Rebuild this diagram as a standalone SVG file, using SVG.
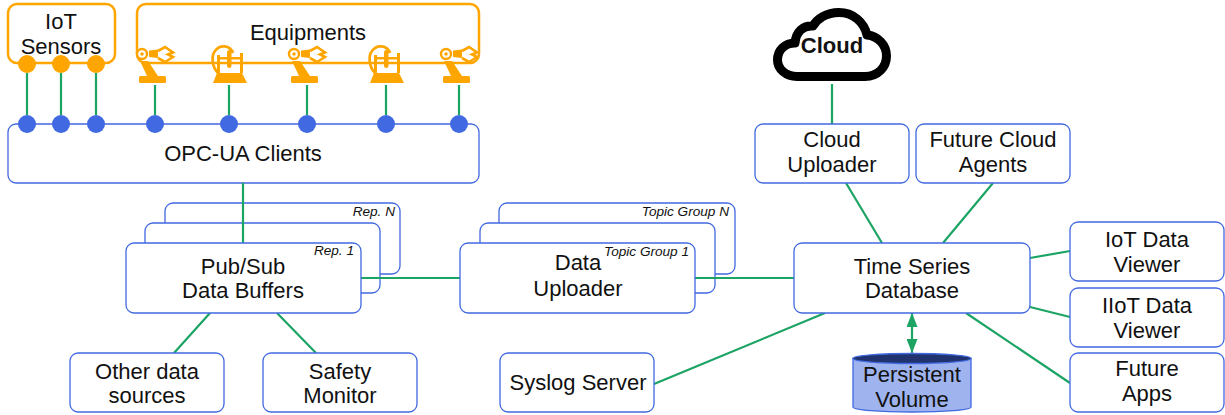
<svg xmlns="http://www.w3.org/2000/svg" width="1225" height="415" viewBox="0 0 1225 415">
<style>
text{font-family:"Liberation Sans",Arial,sans-serif;font-size:22px;fill:#111;text-anchor:middle}
.tag{font-size:13.6px;font-style:italic;text-anchor:end}
.box{fill:#fff;stroke:#4169e1;stroke-width:1.3}
.or{fill:none;stroke:#ffa500;stroke-width:2.5}
.c{fill:none;stroke:#1ba463;stroke-width:2.2}
.bd{fill:#4169e1}
.od{fill:#ffa500}
.ic{fill:#ffa500}
.ics{fill:none;stroke:#ffa500}
</style>
<defs>
<marker id="ah" viewBox="0 0 14 11" refX="14" refY="5.500" markerWidth="14" markerHeight="11" markerUnits="userSpaceOnUse" orient="auto-start-reverse"><path d="M0 0L14 5.500L0 11Z" fill="#1ba463"/></marker>
<g id="robot">
<rect x="-16" y="17" width="27" height="7" rx="1.500" class="ic"/>
<path d="M-15 2H-7L3 17H-8Z" class="ic"/>
<circle cx="-13" cy="-5" r="5" fill="#fff" stroke="#ffa500" stroke-width="2.400"/>
<circle cx="-13" cy="-5" r="1.800" class="ic"/>
<path d="M-6 -8.500L3 -9.500V-1L-6 -2Z" class="ic"/>
<path d="M3 -8L10 -12L18 -6.500L13 -4.500L18 -2L10 3L3 -1" fill="none" stroke="#ffa500" stroke-width="2.600"/>
</g>
<g id="printer">
<path d="M-16 24L-12 14H13L18 24Z" class="ic"/>
<rect x="-12" y="-4" width="3" height="18" class="ic"/>
<rect x="11" y="-6" width="3" height="20" class="ic"/>
<rect x="-11" y="-2" width="23" height="2.500" class="ic"/>
<rect x="-2" y="-9" width="4.500" height="18" rx="2.200" class="ic"/>
<path d="M-11 14C-17 8-18 -3-14 -8C-9 -15 1 -14 4 -6" class="ics" stroke-width="2.800"/>
</g>
</defs>

<g id="connectors">
<path class="c" d="M27 73V115M61 73V115M96 73V115M155 85V115M229 85V115M307 85V115M386 85V115M459 85V115"/>
<path class="c" d="M210 313L174 353M277 313L316 353"/>
<path class="c" d="M832 84V124"/>
<path class="c" d="M846 183L882 243M993 183L943 243"/>
<path class="c" d="M1030 258L1070 251M1030 307L1070 317M966 313L1070 383"/>
<path class="c" d="M825 313L654 384"/>
<path class="c" d="M912 313V353" marker-start="url(#ah)" marker-end="url(#ah)"/>
</g>

<g id="iot-sensors">
<rect class="or" x="8" y="4" width="107" height="59" rx="9"/>
<text x="61" y="29">IoT</text>
<text x="61" y="54">Sensors</text>
<circle class="od" cx="27" cy="64" r="9"/><circle class="od" cx="61" cy="64" r="9"/><circle class="od" cx="96" cy="64" r="9"/>
</g>

<g id="equipments">
<rect class="or" x="137" y="4" width="342" height="59" rx="9"/>
<text x="308" y="40">Equipments</text>
<use href="#robot" x="155" y="59"/>
<use href="#printer" x="229" y="59"/>
<use href="#robot" x="307" y="59"/>
<use href="#printer" x="386" y="59"/>
<use href="#robot" x="459" y="59"/>
</g>

<g id="opc-ua-clients">
<rect class="box" x="8" y="124" width="471" height="59" rx="8"/>
<text x="243" y="161">OPC-UA Clients</text>
<circle class="bd" cx="27" cy="124" r="9"/><circle class="bd" cx="61" cy="124" r="9"/><circle class="bd" cx="96" cy="124" r="9"/><circle class="bd" cx="155" cy="124" r="9"/><circle class="bd" cx="229" cy="124" r="9"/><circle class="bd" cx="307" cy="124" r="9"/><circle class="bd" cx="386" cy="124" r="9"/><circle class="bd" cx="459" cy="124" r="9"/>
</g>

<g id="pubsub-n">
<rect class="box" x="165" y="203" width="235" height="71" rx="8"/>
<text class="tag" x="395" y="216">Rep. N</text>
</g>
<g id="pubsub-2">
<rect class="box" x="145" y="223" width="235" height="70" rx="8"/>
</g>
<g id="connectors-pubsub">
<path class="c" d="M243 183V243"/>
<path class="c" d="M361 278H460"/>
</g>
<g id="pubsub-1">
<rect class="box" x="126" y="243" width="235" height="70" rx="8"/>
<text class="tag" x="354" y="255">Rep. 1</text>
<text x="243" y="274">Pub/Sub</text>
<text x="243" y="298">Data Buffers</text>
</g>

<g id="uploader-n">
<rect class="box" x="499" y="203" width="236" height="71" rx="8"/>
<text class="tag" x="729" y="216">Topic Group N</text>
</g>
<g id="uploader-2">
<rect class="box" x="480" y="223" width="235" height="70" rx="8"/>
</g>
<g id="connectors-uploader">
<path class="c" d="M695 278H794"/>
</g>
<g id="uploader-1">
<rect class="box" x="460" y="243" width="235" height="70" rx="8"/>
<text class="tag" x="689" y="256">Topic Group 1</text>
<text x="578" y="270">Data</text>
<text x="578" y="296">Uploader</text>
</g>

<g id="time-series-database">
<rect class="box" x="794" y="243" width="236" height="70" rx="8"/>
<text x="912" y="274">Time Series</text>
<text x="912" y="298">Database</text>
</g>

<g id="cloud">
<path d="M797 76.500H865C878 76.500 886.500 67 886.500 56C886.500 45 878 36 867 35C864 22 853 12.500 839 12.500C826 12.500 817 19 813 26C803 25 796 32 795 43C785 43 777.500 50 777.500 60C777.500 69 786 76.500 797 76.500Z" fill="#fff" stroke="#000" stroke-width="9" stroke-linejoin="round"/>
<text x="832" y="53" font-weight="bold">Cloud</text>
</g>

<g id="cloud-uploader">
<rect class="box" x="755" y="124" width="154" height="59" rx="8"/>
<text x="832" y="147">Cloud</text>
<text x="832" y="172">Uploader</text>
</g>
<g id="future-cloud-agents">
<rect class="box" x="916" y="124" width="154" height="59" rx="8"/>
<text x="993" y="147">Future Cloud</text>
<text x="993" y="172">Agents</text>
</g>
<g id="iot-data-viewer">
<rect class="box" x="1070" y="222" width="154" height="59" rx="8"/>
<text x="1147" y="247">IoT Data</text>
<text x="1147" y="272">Viewer</text>
</g>
<g id="iiot-data-viewer">
<rect class="box" x="1070" y="288" width="154" height="59" rx="8"/>
<text x="1147" y="313">IIoT Data</text>
<text x="1147" y="338">Viewer</text>
</g>
<g id="future-apps">
<rect class="box" x="1070" y="353" width="154" height="59" rx="8"/>
<text x="1147" y="376">Future</text>
<text x="1147" y="401">Apps</text>
</g>
<g id="other-data-sources">
<rect class="box" x="70" y="353" width="154" height="59" rx="8"/>
<text x="147" y="379">Other data</text>
<text x="147" y="403">sources</text>
</g>
<g id="safety-monitor">
<rect class="box" x="263" y="353" width="154" height="59" rx="8"/>
<text x="340" y="379">Safety</text>
<text x="340" y="403">Monitor</text>
</g>
<g id="syslog-server">
<rect class="box" x="500" y="353" width="154" height="59" rx="8"/>
<text x="578" y="390">Syslog Server</text>
</g>
<g id="persistent-volume">
<path d="M853 358.500V407C853 410 880 412 912 412C944 412 971 410 971 407V358.500Z" fill="#9fb4ef" stroke="#4169e1" stroke-width="1.300"/>
<ellipse cx="912" cy="358.500" rx="59" ry="5" fill="#20336f" stroke="#4169e1" stroke-width="1.300"/>
<text x="912" y="382">Persistent</text>
<text x="912" y="407">Volume</text>
</g>
</svg>
